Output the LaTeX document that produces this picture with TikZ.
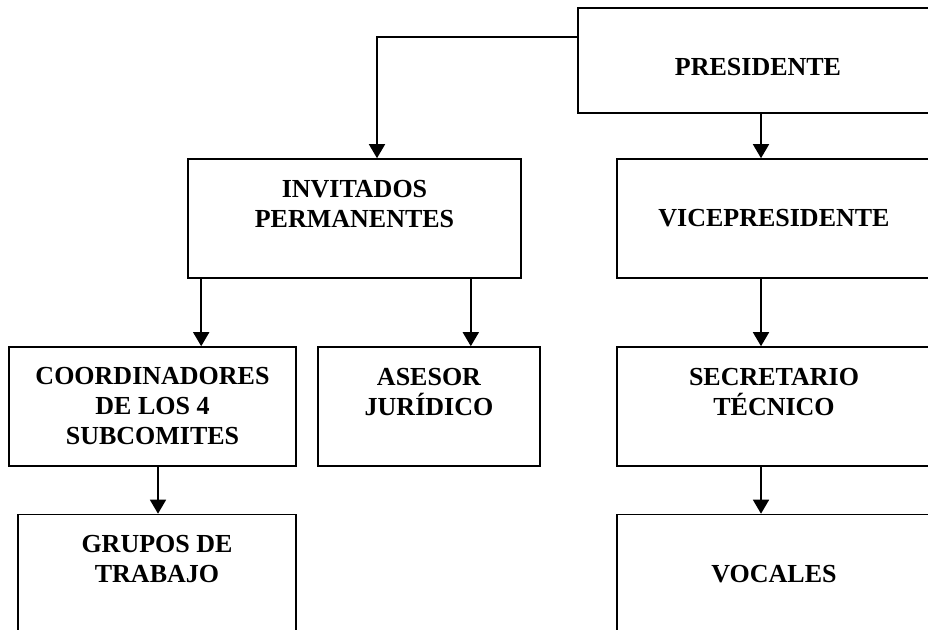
\documentclass[tikz,border=0pt]{standalone}
\usepackage{fontspec}
\setmainfont{Liberation Serif}
\usetikzlibrary{arrows.meta}

\begin{document}
\begin{tikzpicture}[
        x=1pt, y=-1pt,
        box/.style={rectangle, draw, line width=1.6pt, inner sep=0pt, align=center,
            font=\bfseries\fontsize{26}{30}\selectfont},
        arrow/.style={-{Triangle[length=14pt, width=16pt]}, line width=1.6pt}
    ]
        \clip (0,0) rectangle (928,629);
        \useasboundingbox (0,0) rectangle (928,629);

        \node[box, minimum width=360pt, minimum height=105pt, text height=30pt] (pres) at (758,60.5) {PRESIDENTE};
        \node[box, minimum width=333pt, minimum height=119pt] (invit) at (354.5,218.5) {INVITADOS\\PERMANENTES\\~};
        \node[box, minimum width=314pt, minimum height=119pt] (vice) at (774,218.5) {VICEPRESIDENTE};

        \node[box, minimum width=287pt, minimum height=119pt] (coord) at (152.5,406.5) {COORDINADORES\\DE LOS 4\\SUBCOMITES};
        \node[box, minimum width=222pt, minimum height=119pt] (asesor) at (429,406.5) {ASESOR\\JURÍDICO\\~};
        \node[box, minimum width=314pt, minimum height=119pt] (secr) at (774,406.5) {SECRETARIO\\TÉCNICO\\~};

        \node[box, minimum width=278pt, minimum height=119pt] (grupos) at (157,574) {GRUPOS DE\\TRABAJO\\~};
        \node[box, minimum width=314pt, minimum height=119pt] (vocal) at (774,574) {VOCALES};

        % connectors
        \draw[arrow] ([yshift=-30pt]pres.north west) -| ([xshift=22.5pt]invit.north);
        \draw[arrow] ([xshift=3pt]pres.south) -- ([xshift=3pt]pres.south |- vice.north);
        \draw[arrow] ([xshift=14pt]invit.south west) -- ([xshift=14pt]invit.south west |- coord.north);
        \draw[arrow] ([xshift=-51pt]invit.south east) -- ([xshift=-51pt]invit.south east |- asesor.north);
        \draw[arrow] ([xshift=5.5pt]coord.south) -- ([xshift=5.5pt]coord.south |- grupos.north);
        \draw[arrow] ([xshift=-13pt]vice.south) -- ([xshift=-13pt]vice.south |- secr.north);
        \draw[arrow] ([xshift=-13pt]secr.south) -- ([xshift=-13pt]secr.south |- vocal.north);
    \end{tikzpicture}
\end{document}
